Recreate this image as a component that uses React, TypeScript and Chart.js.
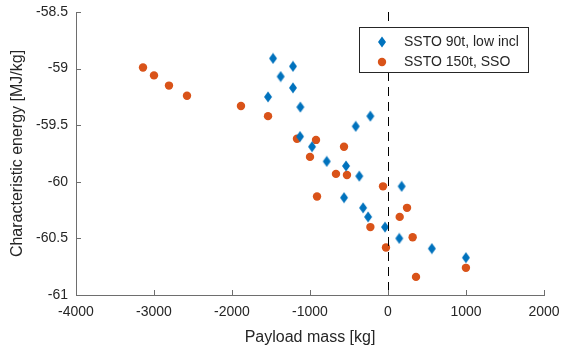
import { useEffect, useRef } from "react";
import { Chart, registerables } from "chart.js";

Chart.register(...registerables);

const series1Name = "SSTO 90t, low incl";
const series1X = [-1474, -1376, -1218, -1218, -1538, -1124, -1128, -974, -786, -538, -368, -414, -226, 175, -564, -319, -255, -38, 145, 562, 999];
const series1Y = [-58.91, -59.07, -58.98, -59.17, -59.25, -59.34, -59.6, -59.69, -59.82, -59.86, -59.95, -59.51, -59.42, -60.04, -60.14, -60.23, -60.31, -60.4, -60.5, -60.59, -60.67];

const series2Name = "SSTO 150t, SSO";
const series2X = [-3141, -3000, -2808, -2577, -1885, -1538, -1167, -923, -564, -1000, -667, -526, -64, -910, 244, 150, -226, 316, -26, 999, 359];
const series2Y = [-58.99, -59.06, -59.15, -59.24, -59.33, -59.42, -59.62, -59.63, -59.69, -59.78, -59.93, -59.94, -60.04, -60.13, -60.23, -60.31, -60.4, -60.49, -60.58, -60.76, -60.84];

const xTitle = "Payload mass [kg]";
const yTitle = "Characteristic energy [MJ/kg]";
const xMin = -4000;
const xMax = 2000;
const xStep = 1000;
const yMin = -61;
const yMax = -58.5;
const yStep = 0.5;
const refLineX = 0;

const BLUE = "#0072BD";
const ORANGE = "#D95319";
const TEXT = "#262626";
const AXIS = "#6e6e6e";
const FONT = "'Liberation Sans', Arial, Helvetica, sans-serif";

function makeDiamond(): HTMLCanvasElement {
  const c = document.createElement("canvas");
  c.width = 10;
  c.height = 12;
  const g = c.getContext("2d")!;
  g.fillStyle = BLUE;
  g.beginPath();
  g.moveTo(1, 6);
  g.lineTo(5, 0.5);
  g.lineTo(9, 6);
  g.lineTo(5, 11.5);
  g.closePath();
  g.fill();
  return c;
}

export default function App() {
  const ref = useRef<HTMLCanvasElement | null>(null);

  useEffect(() => {
    if (!ref.current) return;
    const diamond = makeDiamond();

    const overlay = {
      id: "matlabOverlay",
      afterDatasetsDraw(chart: any) {
        const { ctx, chartArea, scales } = chart;
        const px = Math.round(scales.x.getPixelForValue(refLineX)) + 0.5;
        ctx.save();
        ctx.strokeStyle = "#000";
        ctx.lineWidth = 1;
        ctx.setLineDash([9, 6]);
        ctx.beginPath();
        ctx.moveTo(px, chartArea.top);
        ctx.lineTo(px, chartArea.bottom);
        ctx.stroke();
        ctx.restore();
      },
      afterDraw(chart: any) {
        const { ctx, chartArea, scales } = chart;
        ctx.save();
        ctx.strokeStyle = AXIS;
        ctx.lineWidth = 1;
        ctx.beginPath();
        scales.x.ticks.forEach((t: any) => {
          const x = Math.round(scales.x.getPixelForValue(t.value)) + 0.5;
          ctx.moveTo(x, chartArea.bottom);
          ctx.lineTo(x, chartArea.bottom - 5);
        });
        scales.y.ticks.forEach((t: any) => {
          const y = Math.round(scales.y.getPixelForValue(t.value)) + 0.5;
          ctx.moveTo(chartArea.left, y);
          ctx.lineTo(chartArea.left + 5, y);
        });
        ctx.stroke();

        // legend
        const lx = 359.5, ly = 27.5, lw = 169, lh = 45;
        ctx.fillStyle = "#fff";
        ctx.fillRect(lx, ly, lw, lh);
        ctx.strokeStyle = TEXT;
        ctx.strokeRect(lx, ly, lw, lh);
        ctx.drawImage(diamond, 382 - 5, 42 - 6);
        ctx.fillStyle = ORANGE;
        ctx.beginPath();
        ctx.arc(382, 62, 4.2, 0, Math.PI * 2);
        ctx.fill();
        ctx.fillStyle = TEXT;
        ctx.font = "14px " + FONT;
        ctx.textBaseline = "middle";
        ctx.textAlign = "left";
        ctx.fillText(series1Name, 404, 42);
        ctx.fillText(series2Name, 404, 62);
        ctx.restore();
      },
    };

    const chart = new Chart(ref.current, {
      type: "scatter",
      data: {
        datasets: [
          {
            label: series1Name,
            data: series1X.map((x, i) => ({ x, y: series1Y[i] })),
            pointStyle: diamond as any,
            backgroundColor: BLUE,
            borderWidth: 0,
          },
          {
            label: series2Name,
            data: series2X.map((x, i) => ({ x, y: series2Y[i] })),
            pointStyle: "circle",
            pointRadius: 4.2,
            backgroundColor: ORANGE,
            borderColor: ORANGE,
            borderWidth: 0,
          },
        ],
      },
      options: {
        responsive: false,
        animation: false,
        devicePixelRatio: 1,
        layout: { padding: { top: 12, right: 17, left: 0, bottom: 0 } },
        plugins: { legend: { display: false }, tooltip: { enabled: false } },
        scales: {
          x: {
            type: "linear",
            min: xMin,
            max: xMax,
            ticks: {
              stepSize: xStep,
              callback: (v: any) => String(v),
              font: { size: 14, family: FONT },
              color: TEXT,
              padding: 9,
            },
            grid: { drawOnChartArea: false, drawTicks: false },
            border: { color: AXIS, width: 1 },
            title: {
              display: true,
              text: xTitle,
              color: TEXT,
              font: { size: 16, family: FONT },
              padding: { top: 0, bottom: 3 },
            },
            afterFit: (s: any) => {
              s.height = 55;
              s.paddingRight = 0;
              s.paddingLeft = 0;
            },
          },
          y: {
            type: "linear",
            min: yMin,
            max: yMax,
            ticks: {
              stepSize: yStep,
              callback: (v: any) => String(Math.round(v * 10) / 10),
              font: { size: 14, family: FONT },
              color: TEXT,
              padding: 8,
            },
            grid: { drawOnChartArea: false, drawTicks: false },
            border: { color: AXIS, width: 1 },
            title: {
              display: true,
              text: yTitle,
              color: TEXT,
              font: { size: 16, family: FONT },
              padding: { top: 8, bottom: 0 },
            },
            afterFit: (s: any) => {
              s.width = 76;
              s.paddingTop = 0;
              s.paddingBottom = 0;
            },
          },
        },
      },
      plugins: [overlay],
    } as any);

    return () => chart.destroy();
  }, []);

  return (
    <div style={{ position: "fixed", left: 0, top: 0, width: 561, height: 350, background: "#fff" }}>
      <canvas ref={ref} width={561} height={350} style={{ width: 561, height: 350 }} />
    </div>
  );
}
